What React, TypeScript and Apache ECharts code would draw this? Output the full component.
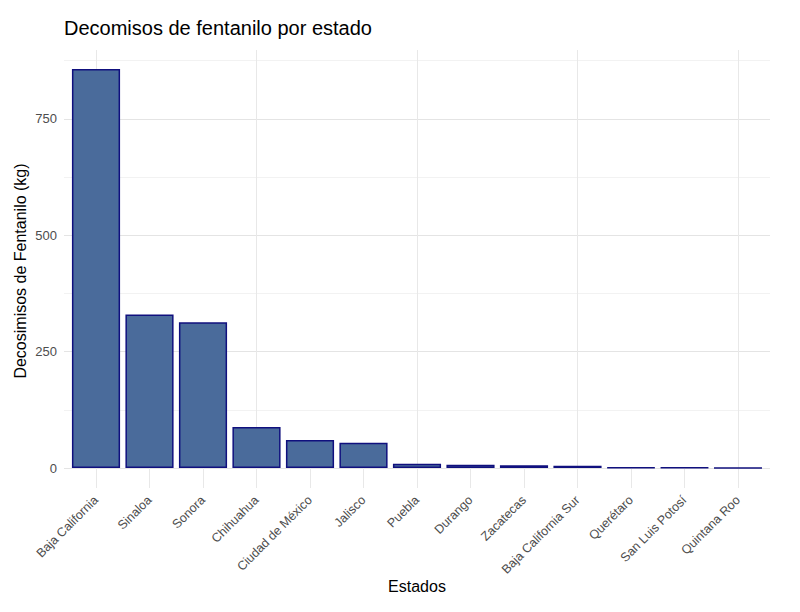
import React, { useEffect, useRef } from "react";
import * as echarts from "echarts";

const categories = [
  "Baja California",
  "Sinaloa",
  "Sonora",
  "Chihuahua",
  "Ciudad de México",
  "Jalisco",
  "Puebla",
  "Durango",
  "Zacatecas",
  "Baja California Sur",
  "Querétaro",
  "San Luis Potosí",
  "Quintana Roo",
];
const values = [857, 330, 313, 88, 60, 54, 9, 7, 6, 5, 1, 0.6, 0.4];
const yTickLabels = [0, 250, 500, 750];

const FONT = "Liberation Sans, Arial, sans-serif";

export default function App() {
  const ref = useRef<HTMLDivElement>(null);
  useEffect(() => {
    if (!ref.current) return;
    const chart = echarts.init(ref.current, undefined, { renderer: "svg" });
    const gridTop = 50;
    const gridBottom = 144;
    const gridH = 612 - gridTop - gridBottom;
    const yMax = 898;
    chart.setOption({
      animation: false,
      backgroundColor: "#ffffff",
      title: {
        text: "Decomisos de fentanilo por estado",
        left: 59,
        top: 13,
        textStyle: { fontFamily: FONT, fontSize: 20, fontWeight: "normal", color: "#000" },
      },
      grid: [
        { left: 64, right: 30, top: gridTop, bottom: gridBottom },
        { left: 69.25, right: 35.25, top: gridTop, bottom: gridBottom },
      ],
      xAxis: [
        {
          type: "value",
          gridIndex: 0,
          min: 0,
          max: 1,
          show: false,
        },
        {
          type: "category",
          gridIndex: 1,
          data: categories,
          position: "bottom",
          axisLine: { show: false },
          axisTick: {
            show: true,
            inside: true,
            alignWithLabel: true,
            length: gridH,
            lineStyle: { color: "#e8e8e8", width: 1 },
          },
          axisLabel: { show: false },
          splitLine: { show: false },
        },
        {
          type: "category",
          gridIndex: 1,
          data: categories,
          position: "bottom",
          axisLine: { show: false },
          axisTick: {
            show: true,
            alignWithLabel: true,
            length: 20,
            lineStyle: { color: "#e8e8e8", width: 1 },
          },
          axisLabel: {
            rotate: 45,
            margin: 30,
            interval: 0,
            fontFamily: FONT,
            fontSize: 12.5,
            color: "#4d4d4d",
          },
          splitLine: { show: false },
        },
      ],
      yAxis: [
        {
          type: "value",
          gridIndex: 0,
          min: 0,
          max: yMax,
          interval: 125,
          axisLine: { show: false },
          axisTick: { show: false },
          axisLabel: {
            margin: 7,
            fontFamily: FONT,
            fontSize: 13,
            color: "#4d4d4d",
            formatter: (v: number) => (yTickLabels.includes(v) ? String(v) : ""),
          },
          splitLine: {
            show: true,
            showMaxLine: false,
            lineStyle: { color: ["#e4e4e4", "#f2f2f2"], width: 1 },
          },
        },
        {
          type: "value",
          gridIndex: 1,
          min: 0,
          max: yMax,
          show: false,
          splitLine: { show: false },
        },
      ],
      graphic: [
        {
          type: "text",
          x: 20,
          y: 271,
          rotation: Math.PI / 2,
          style: {
            text: "Decosimisos de Fentanilo (kg)",
            fontFamily: FONT,
            fontSize: 16,
            fill: "#000",
            align: "center",
            verticalAlign: "middle",
          },
        },
        {
          type: "text",
          x: 417,
          y: 586,
          style: {
            text: "Estados",
            fontFamily: FONT,
            fontSize: 16,
            fill: "#000",
            align: "center",
            verticalAlign: "middle",
          },
        },
      ],
      series: [
        {
          type: "bar",
          xAxisIndex: 1,
          yAxisIndex: 1,
          data: values,
          barWidth: "90%",
          itemStyle: { color: "#4a6b9b", borderColor: "#10107e", borderWidth: 1.5 },
          z: 2,
        },
      ],
    });
    return () => chart.dispose();
  }, []);
  return <div ref={ref} style={{ width: 800, height: 612, marginLeft: -8, marginTop: -8 }} />;
}
